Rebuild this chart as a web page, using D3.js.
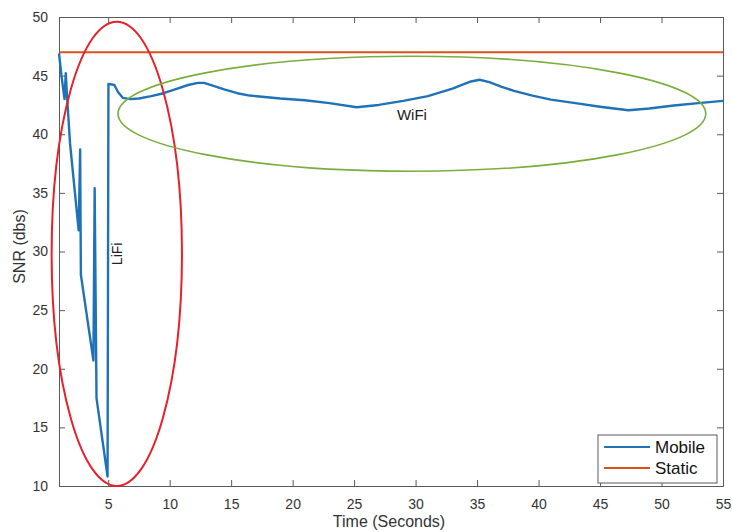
<!DOCTYPE html>
<html>
<head>
<meta charset="utf-8">
<script src="https://cdn.jsdelivr.net/npm/d3@7"></script>
<style>
  html, body { margin: 0; padding: 0; background: #fff; }
  svg { display: block; font-family: "Liberation Sans", Arial, Helvetica, sans-serif; }
</style>
</head>
<body>
<svg id="chart" width="732" height="532"></svg>
<script>
// ---- data ----
const seriesNames = ["Mobile", "Static"];
const mobileTime = [1.0, 1.2, 1.45, 1.55, 1.65, 1.9, 2.6, 2.72, 2.78, 3.8, 3.9, 4.05, 4.95, 5.02, 5.5, 5.8, 6.2, 6.8,
  7.5, 8.5, 9.5, 10.5, 11.5, 12.3, 12.8, 13.5, 14.5, 15.5, 16.5, 17.5, 19, 21, 23, 25.2, 27, 29, 31, 33, 34.5, 35.2,
  36, 37, 38, 39.5, 41, 43, 45, 47.3, 49, 51, 53, 55];
const mobileSNR = [46.9, 45.0, 43.0, 45.2, 43.3, 39.2, 31.8, 38.7, 28.0, 20.7, 35.4, 17.5, 10.8, 44.3, 44.2, 43.6, 43.1, 43.0,
  43.05, 43.25, 43.5, 43.85, 44.2, 44.38, 44.38, 44.15, 43.8, 43.5, 43.3, 43.2, 43.05, 42.9, 42.65, 42.3, 42.5, 42.85, 43.25, 43.9, 44.5, 44.65,
  44.45, 44.05, 43.7, 43.3, 42.95, 42.65, 42.35, 42.05, 42.2, 42.45, 42.65, 42.85];
const staticTime = [1, 55];
const staticSNR = [47, 47];
const xTicks = [5, 10, 15, 20, 25, 30, 35, 40, 45, 50, 55];
const yTicks = [10, 15, 20, 25, 30, 35, 40, 45, 50];
const xDomain = [1, 55];
const yDomain = [10, 50];
// annotation ellipses in data units: [cx, cy, rx, ry]
const lifiEllipse = [5.7, 29.8, 5.3, 19.8];
const wifiEllipse = [29.7, 41.75, 23.9, 4.9];
const annotations = ["LiFi", "WiFi"];

// ---- layout ----
const W = 732, H = 532;
const margin = { left: 59, top: 17, right: 9, bottom: 46 };
const iw = W - margin.left - margin.right, ih = H - margin.top - margin.bottom;
const colors = { Mobile: "#1f72b8", Static: "#d95319" };
const axisColor = "#5a5a5a", textColor = "#333";

const svg = d3.select("#chart");
const g = svg.append("g").attr("transform", `translate(${margin.left},${margin.top})`);
const x = d3.scaleLinear().domain(xDomain).range([0, iw]);
const y = d3.scaleLinear().domain(yDomain).range([ih, 0]);

// axes (MATLAB-style box with inward ticks)
function styleAxis(sel) {
  sel.selectAll(".domain").attr("stroke", axisColor).attr("stroke-width", 1);
  sel.selectAll(".tick line").attr("stroke", axisColor);
  sel.selectAll(".tick text").attr("fill", textColor).style("font-size", "14px");
}
g.append("g").attr("transform", `translate(0,${ih})`)
  .call(d3.axisBottom(x).tickValues(xTicks).tickSizeInner(-6).tickSizeOuter(0).tickPadding(13))
  .call(styleAxis);
g.append("g")
  .call(d3.axisLeft(y).tickValues(yTicks).tickSizeInner(-6).tickSizeOuter(0).tickPadding(11))
  .call(styleAxis);
g.append("g")
  .call(d3.axisTop(x).tickValues(xTicks).tickSizeInner(-6).tickSizeOuter(0).tickFormat(""))
  .call(styleAxis);
g.append("g").attr("transform", `translate(${iw},0)`)
  .call(d3.axisRight(y).tickValues(yTicks).tickSizeInner(-6).tickSizeOuter(0).tickFormat(""))
  .call(styleAxis);

// lines
const line = d3.line().x(d => x(d[0])).y(d => y(d[1]));
const staticData = d3.zip(staticTime, staticSNR);
const mobileData = d3.zip(mobileTime, mobileSNR);
g.append("path").datum(staticData).attr("d", line)
  .attr("fill", "none").attr("stroke", colors.Static).attr("stroke-width", 2);
g.append("path").datum(mobileData).attr("d", line)
  .attr("fill", "none").attr("stroke", colors.Mobile).attr("stroke-width", 2.4)
  .attr("stroke-linejoin", "round");

// annotation ellipses
function ell(e, color, sw) {
  svg.append("ellipse")
    .attr("cx", margin.left + x(e[0])).attr("cy", margin.top + y(e[1]))
    .attr("rx", x(xDomain[0] + e[2]) - x(xDomain[0]))
    .attr("ry", y(yDomain[0]) - y(yDomain[0] + e[3]))
    .attr("fill", "none").attr("stroke", color).attr("stroke-width", sw);
}
ell(lifiEllipse, "#e8202a", 2);
ell(wifiEllipse, "#7aad3c", 1.6);

svg.append("text").text(annotations[0])
  .attr("transform", `translate(${margin.left + x(6.1)},${margin.top + y(29.8)}) rotate(-90)`)
  .attr("text-anchor", "middle").attr("fill", "#222").style("font-size", "14px");
svg.append("text").text(annotations[1])
  .attr("x", margin.left + x(29.7)).attr("y", margin.top + y(41.75) + 6)
  .attr("text-anchor", "middle").attr("fill", "#222").style("font-size", "15px");

// axis labels
svg.append("text").text("Time (Seconds)")
  .attr("x", margin.left + iw / 2 - 2).attr("y", 527)
  .attr("text-anchor", "middle").attr("fill", textColor).style("font-size", "16px");
svg.append("text").text("SNR (dbs)")
  .attr("transform", `translate(25,${margin.top + ih / 2 - 5}) rotate(-90)`)
  .attr("text-anchor", "middle").attr("fill", textColor).style("font-size", "16px");

// legend
const lg = svg.append("g").attr("transform", "translate(598,435)");
lg.append("rect").attr("width", 119).attr("height", 48)
  .attr("fill", "#fff").attr("stroke", axisColor).attr("stroke-width", 1);
seriesNames.forEach((n, i) => {
  const yy = 12 + i * 21;
  lg.append("line").attr("x1", 6).attr("x2", 52).attr("y1", yy).attr("y2", yy)
    .attr("stroke", colors[n]).attr("stroke-width", 2);
  lg.append("text").text(n).attr("x", 57).attr("y", yy + 6)
    .attr("fill", "#111").style("font-size", "17px");
});
</script>
</body>
</html>
